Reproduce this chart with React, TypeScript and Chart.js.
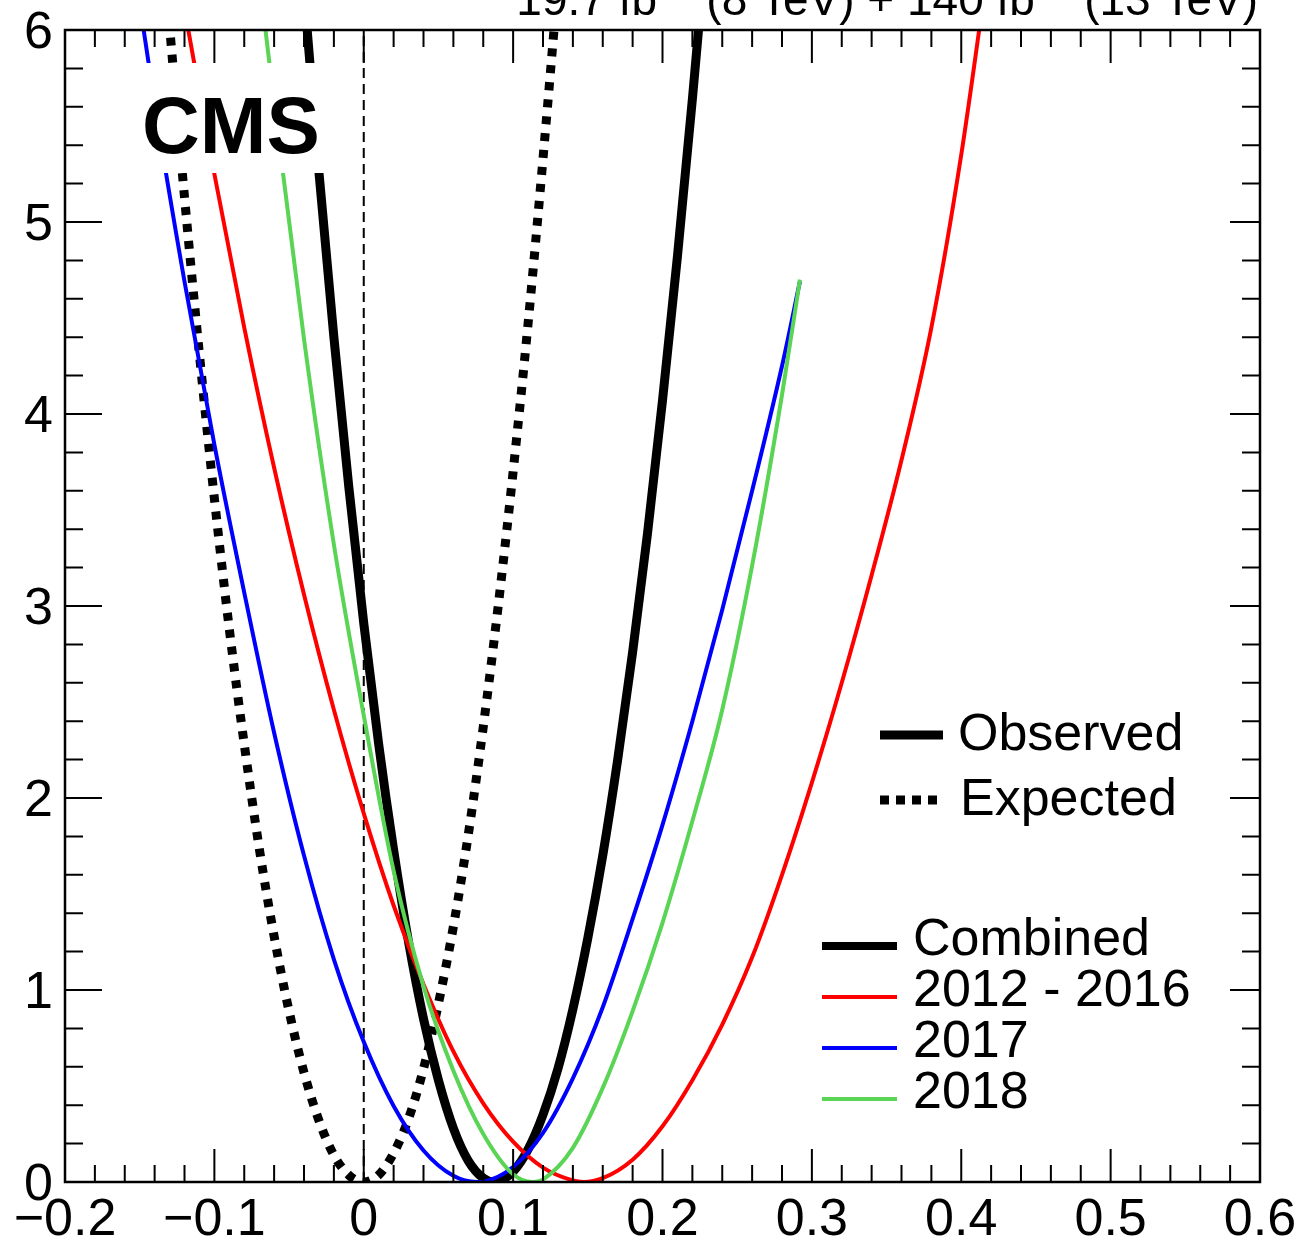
import React, { useEffect, useRef } from "react";
import { Chart, registerables } from "chart.js";

Chart.register(...registerables);

const FONT = '"Liberation Sans", Arial, Helvetica, sans-serif';

// ---- data ----
const combinedX = [-0.045, -0.04, -0.03, -0.02, -0.01, 0, 0.01, 0.02, 0.03, 0.04, 0.05, 0.06, 0.07, 0.08, 0.087, 0.09, 0.1, 0.11, 0.12, 0.13, 0.14, 0.15, 0.16, 0.17, 0.18, 0.19, 0.2, 0.21, 0.22, 0.23];
const combinedY = [6.7, 6.2, 5.26, 4.4, 3.62, 2.91, 2.28, 1.73, 1.25, 0.85, 0.53, 0.28, 0.11, 0.02, 0, 0.003, 0.054, 0.17, 0.35, 0.59, 0.9, 1.27, 1.7, 2.2, 2.76, 3.38, 4.07, 4.82, 5.64, 6.52];

const expectedX = [-0.135, -0.13, -0.12, -0.11, -0.1, -0.09, -0.08, -0.07, -0.06, -0.05, -0.04, -0.03, -0.02, -0.01, 0, 0.01, 0.02, 0.03, 0.04, 0.05, 0.06, 0.07, 0.08, 0.09, 0.1, 0.11, 0.12, 0.13, 0.135];
const expectedY = [6.49, 6.02, 5.13, 4.31, 3.56, 2.88, 2.28, 1.74, 1.28, 0.89, 0.57, 0.32, 0.14, 0.036, 0, 0.037, 0.15, 0.33, 0.59, 0.93, 1.33, 1.81, 2.37, 3.0, 3.7, 4.47, 5.33, 6.25, 6.74];

const run1X = [-0.12, -0.1, -0.08, -0.06, -0.04, -0.02, 0, 0.02, 0.04, 0.06, 0.08, 0.1, 0.12, 0.14, 0.147, 0.16, 0.18, 0.2, 0.22, 0.24, 0.26, 0.28, 0.3, 0.32, 0.34, 0.36, 0.38, 0.4, 0.42];
const run1Y = [6.11, 5.25, 4.45, 3.72, 3.06, 2.46, 1.92, 1.44, 1.03, 0.68, 0.41, 0.21, 0.075, 0.008, 0, 0.02, 0.116, 0.29, 0.53, 0.82, 1.17, 1.6, 2.08, 2.6, 3.16, 3.76, 4.45, 5.35, 6.45];

const y2017X = [-0.15, -0.14, -0.12, -0.1, -0.08, -0.06, -0.04, -0.02, 0, 0.02, 0.04, 0.06, 0.076, 0.08, 0.1, 0.12, 0.14, 0.16, 0.18, 0.2, 0.22, 0.24, 0.26, 0.28, 0.292];
const y2017Y = [6.14, 5.62, 4.69, 3.84, 3.07, 2.34, 1.7, 1.16, 0.73, 0.396, 0.164, 0.032, 0, 0.002, 0.078, 0.256, 0.54, 0.91, 1.37, 1.86, 2.4, 2.98, 3.6, 4.25, 4.69];

const y2018X = [-0.07, -0.06, -0.04, -0.02, 0, 0.02, 0.04, 0.06, 0.08, 0.1, 0.113, 0.12, 0.14, 0.16, 0.18, 0.2, 0.22, 0.24, 0.26, 0.28, 0.292];
const y2018Y = [6.28, 5.62, 4.39, 3.32, 2.43, 1.62, 1.02, 0.58, 0.25, 0.04, 0, 0.013, 0.178, 0.49, 0.89, 1.35, 1.88, 2.46, 3.21, 4.1, 4.7];

const xTickValues = [-0.2, -0.1, 0, 0.1, 0.2, 0.3, 0.4, 0.5, 0.6];
const xTickLabels = ["\u22120.2", "\u22120.1", "0", "0.1", "0.2", "0.3", "0.4", "0.5", "0.6"];
const yTickValues = [0, 1, 2, 3, 4, 5, 6];
const yTickLabels = ["0", "1", "2", "3", "4", "5", "6"];

const typeLabels = ["Observed", "Expected"];
const seriesLabels = ["Combined", "2012 - 2016", "2017", "2018"];
const seriesColors = ["#000000", "#ff0000", "#0000ff", "#59d454"];
const headerParts = ["19.7 fb", "\u22121", " (8 TeV) + 140 fb", "\u22121", " (13 TeV)"];
const experimentLabel = "CMS";

const pts = (xs: number[], ys: number[]) => xs.map((v, i) => ({ x: v, y: ys[i] }));

const overlay = {
  id: "overlay",
  beforeDatasetsDraw(chart: any) {
    const { ctx, chartArea: a, scales } = chart;
    const px0 = scales.x.getPixelForValue(0);
    ctx.save();
    ctx.strokeStyle = "#000";
    ctx.lineWidth = 2;
    ctx.setLineDash([10, 6]);
    ctx.beginPath();
    ctx.moveTo(px0, a.bottom);
    ctx.lineTo(px0, a.top);
    ctx.stroke();
    ctx.restore();
  },
  afterDatasetsDraw(chart: any) {
    const { ctx, chartArea: a, scales } = chart;
    const xs = scales.x;
    const ys = scales.y;
    ctx.save();

    // white box behind CMS label
    ctx.fillStyle = "#fff";
    ctx.fillRect(a.left + 1, 63, 280, 110);
    ctx.fillStyle = "#000";
    ctx.font = `bold 80px ${FONT}`;
    ctx.textAlign = "left";
    ctx.textBaseline = "alphabetic";
    ctx.fillText(experimentLabel, 142, 153);

    // frame
    ctx.strokeStyle = "#000";
    ctx.lineWidth = 2.5;
    ctx.strokeRect(a.left, a.top, a.right - a.left, a.bottom - a.top);

    // ticks
    ctx.lineWidth = 2;
    ctx.beginPath();
    for (let i = 0; i <= 40; i++) {
      const v = -0.2 + i * 0.02;
      const p = xs.getPixelForValue(v);
      const len = i % 5 === 0 ? 33 : 17;
      ctx.moveTo(p, a.bottom);
      ctx.lineTo(p, a.bottom - len);
      ctx.moveTo(p, a.top);
      ctx.lineTo(p, a.top + len);
    }
    for (let i = 0; i <= 30; i++) {
      const v = i * 0.2;
      const p = ys.getPixelForValue(v);
      const major = i % 5 === 0;
      ctx.moveTo(a.left, p);
      ctx.lineTo(a.left + (major ? 37 : 18), p);
      ctx.moveTo(a.right, p);
      ctx.lineTo(a.right - (major ? 30 : 18), p);
    }
    ctx.stroke();

    // tick labels
    ctx.font = `52px ${FONT}`;
    ctx.textAlign = "center";
    xTickValues.forEach((v, i) => {
      ctx.fillText(xTickLabels[i], xs.getPixelForValue(v), a.bottom + 53);
    });
    ctx.textAlign = "right";
    yTickValues.forEach((v, i) => {
      ctx.fillText(yTickLabels[i], 53, ys.getPixelForValue(v) + 18);
    });

    // legend: observed / expected
    ctx.textAlign = "left";
    ctx.lineCap = "butt";
    ctx.lineWidth = 9;
    ctx.beginPath();
    ctx.moveTo(880, 735);
    ctx.lineTo(943, 735);
    ctx.stroke();
    ctx.fillText(typeLabels[0], 958, 750);
    ctx.setLineDash([9, 7]);
    ctx.beginPath();
    ctx.moveTo(880, 800);
    ctx.lineTo(937, 800);
    ctx.stroke();
    ctx.setLineDash([]);
    ctx.fillText(typeLabels[1], 960, 815);

    // legend: series
    const widths = [8, 4, 4, 4];
    seriesLabels.forEach((lab, i) => {
      const yy = 946 + i * 51;
      ctx.strokeStyle = seriesColors[i];
      ctx.lineWidth = widths[i];
      ctx.beginPath();
      ctx.moveTo(822, yy);
      ctx.lineTo(897, yy);
      ctx.stroke();
      ctx.fillStyle = "#000";
      ctx.fillText(lab, 913, yy + 9);
    });

    // header (partly outside the canvas at the top)
    const big = `46px ${FONT}`;
    const small = `32px ${FONT}`;
    const fonts = [big, small, big, small, big];
    const dys = [0, -19, 0, -19, 0];
    let total = 0;
    const w = headerParts.map((t, i) => {
      ctx.font = fonts[i];
      const m = ctx.measureText(t).width;
      total += m;
      return m;
    });
    let cx = 1258 - total;
    headerParts.forEach((t, i) => {
      ctx.font = fonts[i];
      ctx.fillText(t, cx, 15 + dys[i]);
      cx += w[i];
    });

    ctx.restore();
  },
};

export default function App() {
  const ref = useRef<HTMLCanvasElement | null>(null);
  useEffect(() => {
    document.body.style.margin = "0";
    if (!ref.current) return;
    const common = { pointRadius: 0, fill: false, cubicInterpolationMode: "monotone" as const, clip: 0 };
    const chart = new Chart(ref.current, {
      type: "line",
      data: {
        datasets: [
          { ...common, label: seriesLabels[3], data: pts(y2018X, y2018Y), borderColor: seriesColors[3], borderWidth: 4, order: 1 },
          { ...common, label: seriesLabels[2], data: pts(y2017X, y2017Y), borderColor: seriesColors[2], borderWidth: 4, order: 2 },
          { ...common, label: seriesLabels[1], data: pts(run1X, run1Y), borderColor: seriesColors[1], borderWidth: 4, order: 3 },
          { ...common, label: typeLabels[1], data: pts(expectedX, expectedY), borderColor: "#000", borderWidth: 9, borderDash: [8, 9], order: 4 },
          { ...common, label: seriesLabels[0], data: pts(combinedX, combinedY), borderColor: "#000", borderWidth: 9, order: 5 },
        ],
      },
      options: {
        animation: false,
        responsive: false,
        devicePixelRatio: 1,
        layout: { padding: { left: 65, right: 37, top: 30, bottom: 59 } },
        plugins: { legend: { display: false }, tooltip: { enabled: false } },
        scales: {
          x: { type: "linear", min: -0.2, max: 0.6, display: false },
          y: { type: "linear", min: 0, max: 6, display: false },
        },
      },
      plugins: [overlay],
    });
    return () => chart.destroy();
  }, []);
  return (
    <div style={{ width: 1297, height: 1241 }}>
      <canvas ref={ref} width={1297} height={1241} style={{ display: "block" }} />
    </div>
  );
}
